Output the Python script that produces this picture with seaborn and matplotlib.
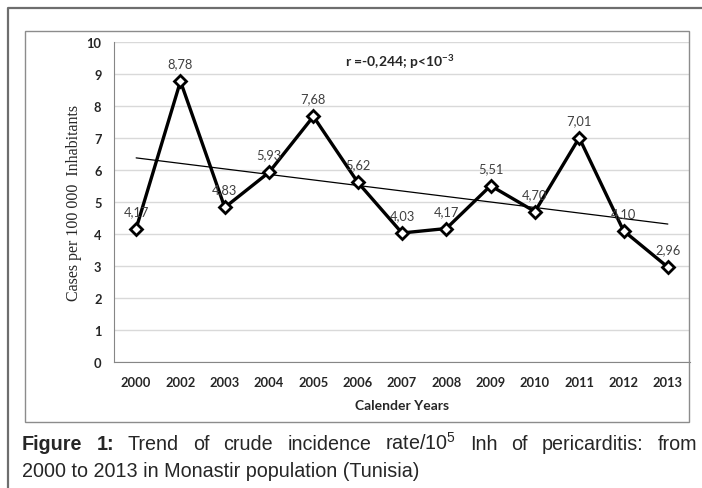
import numpy as np
import pandas as pd
import matplotlib
matplotlib.use("Agg")
import matplotlib.pyplot as plt
import seaborn as sns
from matplotlib.patches import Rectangle
from matplotlib.lines import Line2D

# data
years = ["2000", "2002", "2003", "2004", "2005", "2006", "2007",
         "2008", "2009", "2010", "2011", "2012", "2013"]
rates = [4.17, 8.78, 4.83, 5.93, 7.68, 5.62, 4.03, 4.17, 5.51, 4.70, 7.01, 4.10, 2.96]
rate_labels = [f"{v:.2f}".replace(".", ",") for v in rates]
y_ticks = list(range(0, 11))

df = pd.DataFrame({"pos": np.arange(len(years)), "year": years, "rate": rates})

sns.set_style("white")
plt.rcParams["font.family"] = ["Lato", "DejaVu Sans"]
plt.rcParams["mathtext.fontset"] = "custom"
plt.rcParams["mathtext.rm"] = "Liberation Sans"
plt.rcParams["mathtext.bf"] = "Lato:bold"

W, H = 702, 489
fig = plt.figure(figsize=(W / 100, H / 100), dpi=100)
fig.patch.set_facecolor("white")

def fx(px):
    return px / W

def fy(py):
    return 1 - py / H

# outer figure frame and inner chart frame
fig.add_artist(Line2D([fx(8), fx(8), fx(702)], [fy(489), fy(9), fy(9)],
                      transform=fig.transFigure, color="#6e6e6e", lw=1.6))
fig.add_artist(Rectangle((fx(25), fy(423)), fx(689) - fx(25), fy(32) - fy(423),
                         transform=fig.transFigure, fill=False, ec="#8c8c8c", lw=1))

ax = fig.add_axes([fx(114), fy(362.7), fx(690) - fx(114), fy(43.3) - fy(362.7)])

# trend line (least squares)
sns.regplot(data=df, x="pos", y="rate", scatter=False, ci=None, ax=ax,
            truncate=True, line_kws={"color": "black", "lw": 0.9})

sns.lineplot(data=df, x="pos", y="rate", ax=ax, color="black", lw=2.4,
             marker="D", markersize=6, markerfacecolor="white",
             markeredgecolor="black", markeredgewidth=2, zorder=5)

for x, y, lab in zip(df["pos"], df["rate"], rate_labels):
    ax.annotate(lab, (x, y), xytext=(0, 8.5), textcoords="offset points",
                ha="center", va="bottom", fontsize=9.3, color="#404040", zorder=6)

ax.set_xlim(-0.5, len(years) - 0.5)
ax.set_ylim(0, 10)
ax.set_yticks(y_ticks)
ax.set_yticklabels([str(t) for t in y_ticks], fontweight="bold", fontsize=9.3)
ax.set_xticks(df["pos"])
ax.set_xticklabels(years, fontweight="bold", fontsize=9.3)
ax.set_xticks(np.arange(-0.5, len(years), 1), minor=True)
ax.tick_params(axis="x", which="major", length=0, pad=10)
ax.tick_params(axis="x", which="minor", length=4, color="#868686", direction="out")
ax.tick_params(axis="y", length=4, color="#868686", direction="out", pad=5)
ax.yaxis.grid(True, color="#d9d9d9", lw=1)
ax.set_axisbelow(True)
for s in ["top", "right"]:
    ax.spines[s].set_visible(False)
for s in ["left", "bottom"]:
    ax.spines[s].set_color("#868686")

ax.set_xlabel("Calender Years", fontweight="bold", fontsize=10, labelpad=8)
ax.set_ylabel("Cases per 100 000  Inhabitants", family="Liberation Serif",
              fontsize=11.5, labelpad=3)

ax.text(4.72, 9.41, r"r =-0,244; p<10$^{\mathbf{-3}}$", fontweight="bold",
        fontsize=10, ha="left", va="center")

# caption, first line justified
words = ["Figure", "1:", "Trend", "of", "crude", "incidence", r"rate/10$^{5}$",
         "Inh", "of", "pericarditis:", "from"]
bold_words = {"Figure", "1:"}
cap_size = 14.2
texts = []
for w in words:
    t = fig.text(0, fy(450), w, fontsize=cap_size, family="Liberation Sans",
                 fontweight="bold" if w in bold_words else "normal",
                 ha="left", va="baseline")
    texts.append(t)
renderer = fig.canvas.get_renderer()
widths = [t.get_window_extent(renderer).width for t in texts]
x0, x1 = 22, 697
gap = (x1 - x0 - sum(widths)) / (len(words) - 1)
x = x0
for t, w in zip(texts, widths):
    t.set_x(fx(x))
    x += w + gap
fig.text(fx(22), fy(477.5), "2000 to 2013 in Monastir population (Tunisia)",
         fontsize=cap_size, family="Liberation Sans", ha="left", va="baseline")

fig.savefig("out.png", dpi=100, facecolor="white")
